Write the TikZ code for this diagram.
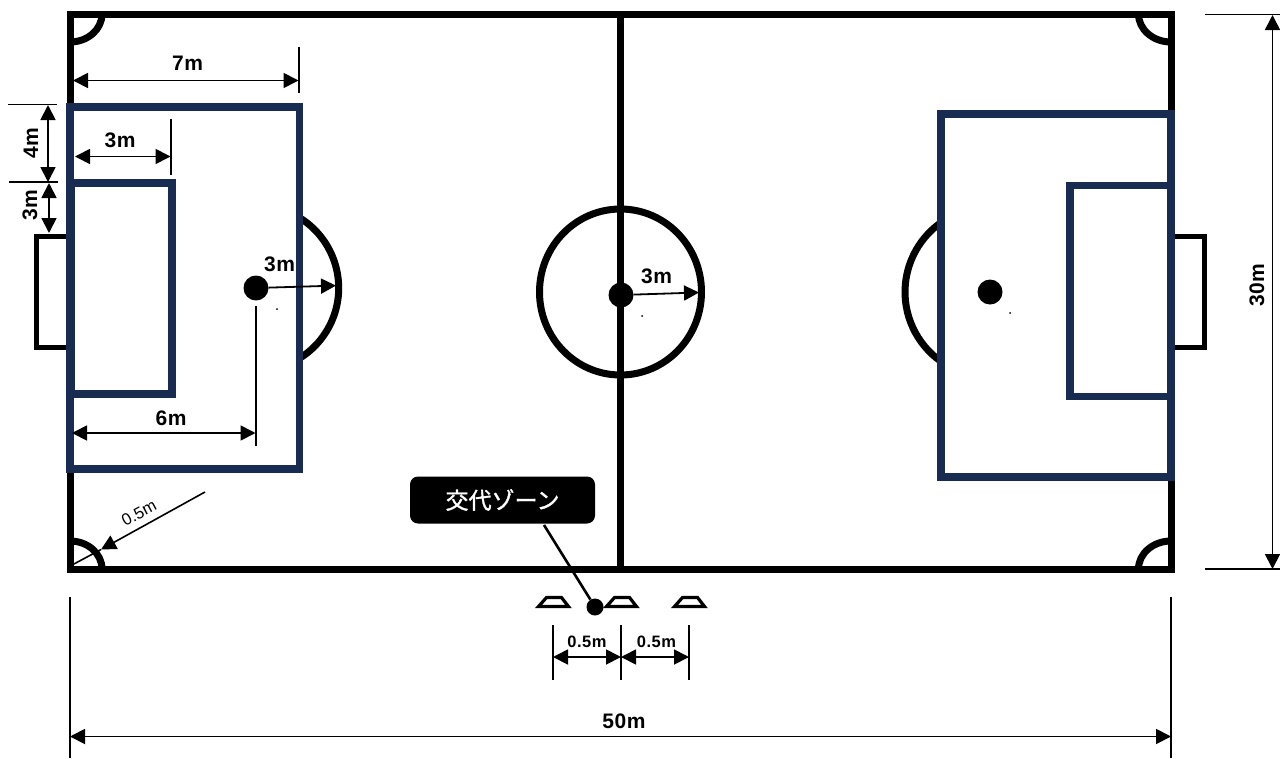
\documentclass[tikz,border=0pt]{standalone}
\usepackage{fontspec}
\setmainfont{Liberation Sans}
\newfontfamily\dimfont[LetterSpace=3,BoldFont={Liberation Sans Bold}]{Liberation Sans}
\newfontfamily\cjkfont[FakeBold=1.4]{Noto Sans CJK JP}
\usetikzlibrary{arrows.meta}
\definecolor{navy}{HTML}{182C52}
\tikzset{
  fieldline/.style={line width=7pt,black},
  bluebox/.style={line width=7.6pt,navy},
  goalline/.style={line width=5pt,black},
  ticks/.style={line width=1.6pt,black},
  dimarrow/.style={line width=1.8pt,black,{Triangle[length=15pt,width=15pt]}-{Triangle[length=15pt,width=15pt]}},
  radarrow/.style={line width=1.8pt,black,-{Triangle[length=15pt,width=15pt]}},
  dimtext/.style={font=\dimfont\bfseries\fontsize{21}{24}\selectfont,inner sep=0pt},
  smalltext/.style={font=\dimfont\bfseries\fontsize{16.5}{20}\selectfont,inner sep=0pt},
  spot/.style={circle,fill=black,inner sep=0pt,minimum size=25pt},
  speck/.style={circle,fill=black,inner sep=0pt,minimum size=2pt},
  cone/.style={line width=3.2pt,black,line join=miter},
  callout/.style={fill=black,rounded corners=8pt,minimum width=185pt,minimum height=47pt,text=white,inner sep=0pt,font=\cjkfont\fontsize{23}{25}\selectfont},
  zonedot/.style={circle,fill=black,inner sep=0pt,minimum size=17pt}
}
\begin{document}
\begin{tikzpicture}[x=1pt,y=1pt,yscale=-1]
\useasboundingbox (0,0) rectangle (1280,758);
% field
\draw[fieldline] (70,14) rectangle (1171,569);
\draw[fieldline] (620.5,14) -- (620.5,569);
\draw[fieldline] (620.5,292) ellipse [x radius=81pt,y radius=83pt];
% corners
\draw[fieldline] (70,42) arc [start angle=90,end angle=0,x radius=32pt,y radius=28pt];
\draw[fieldline] (70,541) arc [start angle=-90,end angle=0,x radius=32pt,y radius=28pt];
\draw[fieldline] (1171,42) arc [start angle=90,end angle=180,x radius=32.5pt,y radius=28pt];
\draw[fieldline] (1171,541) arc [start angle=-90,end angle=-180,x radius=32.5pt,y radius=28pt];
% penalty arcs
\coordinate (lc) at (256,288);
\coordinate (rc) at (990,292);
\draw[fieldline] (lc) ++(-58.3:82.7pt) arc [start angle=-58.3,end angle=58.3,radius=82.7pt];
\draw[fieldline] (rc) ++(125.2:85pt) arc [start angle=125.2,end angle=234.8,radius=85pt];
% goals
\draw[goalline,miter limit=10] (68,236.5) -- (36,236.5) -- (36,347.5) -- (68,347.5);
\draw[goalline,miter limit=10] (1174,236.5) -- (1204.5,236.5) -- (1204.5,347.5) -- (1174,347.5);
% areas
\draw[bluebox] (70,107) rectangle (299.5,469);
\draw[bluebox] (71.5,183) rectangle (172,394);
\draw[bluebox] (941,114) rectangle (1171,477);
\draw[bluebox] (1070,185.5) rectangle (1171,396.5);
% spots
\node[spot] (ls) at (256,288) {};
\node[spot] (cs) at (621,295) {};
\node[spot] (rs) at (990,292) {};
\node[speck] (ls2) at (277,309) {};
\node[speck] (cs2) at (642,316) {};
\node[speck] (rs2) at (1010,313) {};
% radius arrows
\coordinate (lr) at (336,285.6);
\coordinate (cr) at (699,292.5);
\draw[radarrow] (ls) -- (lr);
\draw[radarrow] (cs) -- (cr);
\node[dimtext] (t3a) at (279.5,264.5) {3m};
\node[dimtext] (t3b) at (656.5,276.5) {3m};
% 7m
\coordinate (d7a) at (73,80.5); \coordinate (d7b) at (298.5,80.5);
\draw[ticks] (299,47) -- (299,93);
\draw[dimarrow] (d7a) -- (d7b);
\node[dimtext] (t7) at (187.5,63) {7m};
% 3m horiz
\coordinate (d3a) at (75,156.5); \coordinate (d3b) at (170.5,156.5);
\draw[ticks] (171,119) -- (171,175);
\draw[dimarrow] (d3a) -- (d3b);
\node[dimtext] (t3c) at (120,140) {3m};
% 4m
\draw[ticks] (8,104.5) -- (57,104.5);
\draw[ticks] (9,182) -- (58,182);
\coordinate (d4a) at (48,105); \coordinate (d4b) at (48,182);
\draw[dimarrow] (d4a) -- (d4b);
\node[dimtext,rotate=90] (t4) at (31,143) {4m};
% 3m vert
\coordinate (d3c) at (49,183); \coordinate (d3d) at (49,233);
\draw[dimarrow] (d3c) -- (d3d);
\node[dimtext,rotate=90] (t3d) at (30,205) {3m};
% 6m
\draw[ticks] (256,306) -- (256,446);
\coordinate (d6a) at (72,433); \coordinate (d6b) at (255.5,433);
\draw[dimarrow] (d6a) -- (d6b);
\node[dimtext] (t6) at (171,418) {6m};
% 0.5m corner
\coordinate (c1) at (205,492); \coordinate (c2) at (101,549.5); \coordinate (c3) at (73,564.5);
\draw[ticks] (c2) -- (c3);
\draw[radarrow,line width=1.6pt] (c1) -- (c2);
\node[font=\fontsize{16.5}{18}\selectfont,inner sep=0pt,rotate=28] (t05) at (139,513) {0.5m};
% callout
\node[callout] (zone) at (502.5,500) {交代ゾーン};
\node[zonedot] (zd) at (595,607) {};
\coordinate (za) at (544,525);
\draw[line width=2.6pt,black] (za) -- (zd);
% cones
\draw[cone] (538.5,606.5) -- (546.5,597.5) -- (561.5,597.5) -- (568.5,606.5) -- cycle;
\draw[cone] (606.5,606.5) -- (614.5,597.5) -- (629.5,597.5) -- (636.5,606.5) -- cycle;
\draw[cone] (674.5,606.5) -- (682.5,597.5) -- (697.5,597.5) -- (704.5,606.5) -- cycle;
% 0.5m dims
\draw[ticks] (553,625) -- (553,680);
\draw[ticks] (621,625) -- (621,680);
\draw[ticks] (689,625) -- (689,680);
\coordinate (h1) at (553,657); \coordinate (h2) at (621,657); \coordinate (h3) at (689,657);
\draw[dimarrow] (h1) -- (h2);
\draw[dimarrow] (h2) -- (h3);
\node[smalltext] (t05a) at (587,642) {0.5m};
\node[smalltext] (t05b) at (656.5,642) {0.5m};
% 50m
\draw[ticks] (70,597) -- (70,758);
\draw[ticks] (1171,597) -- (1171,758);
\coordinate (w1) at (70,736.5); \coordinate (w2) at (1171,736.5);
\draw[dimarrow] (w1) -- (w2);
\node[dimtext] (t50) at (624,721.5) {50m};
% 30m
\draw[ticks] (1205,14.5) -- (1280,14.5);
\draw[ticks] (1205,569) -- (1280,569);
\coordinate (v1) at (1272.5,15); \coordinate (v2) at (1272.5,569);
\draw[dimarrow] (v1) -- (v2);
\node[dimtext,rotate=90] (t30) at (1257,285) {30m};
\end{tikzpicture}
\end{document}
